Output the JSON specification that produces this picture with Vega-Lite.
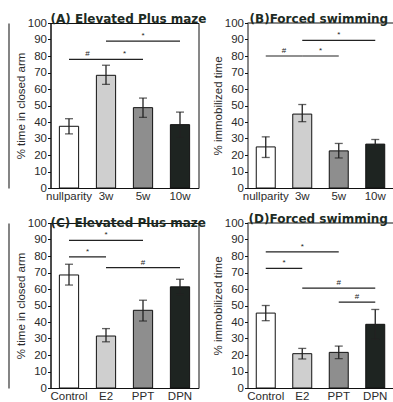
{
  "$schema": "https://vega.github.io/schema/vega-lite/v6.json",
  "background": "white",
  "padding": {"left": 7.5, "top": 12, "right": 0, "bottom": 0},
  "datasets": {
    "A": [
      {"group": "nullparity", "mean": 37.4, "lo": 32.8, "hi": 42.0},
      {"group": "3w", "mean": 68.3, "lo": 62.8, "hi": 74.4},
      {"group": "5w", "mean": 48.7, "lo": 42.8, "hi": 54.5},
      {"group": "10w", "mean": 38.4, "lo": 30.8, "hi": 46.0}
    ],
    "B": [
      {"group": "nullparity", "mean": 24.9, "lo": 18.5, "hi": 31.0},
      {"group": "3w", "mean": 44.8, "lo": 40.2, "hi": 50.6},
      {"group": "5w", "mean": 22.5, "lo": 18.2, "hi": 27.0},
      {"group": "10w", "mean": 26.6, "lo": 23.8, "hi": 29.4}
    ],
    "C": [
      {"group": "Control", "mean": 68.5, "lo": 62.4, "hi": 75.0},
      {"group": "E2", "mean": 31.5, "lo": 28.0, "hi": 36.0},
      {"group": "PPT", "mean": 47.1, "lo": 40.6, "hi": 53.2},
      {"group": "DPN", "mean": 61.3, "lo": 56.7, "hi": 65.9}
    ],
    "D": [
      {"group": "Control", "mean": 45.4, "lo": 40.8, "hi": 50.0},
      {"group": "E2", "mean": 20.8, "lo": 17.6, "hi": 24.0},
      {"group": "PPT", "mean": 21.6, "lo": 17.8, "hi": 25.4},
      {"group": "DPN", "mean": 38.6, "lo": 29.6, "hi": 47.6}
    ],
    "sigA": [
      {"from": "nullparity", "to": "3w", "y": 78, "sym": "#", "span": 1},
      {"from": "3w", "to": "5w", "y": 78, "sym": "*", "span": 1},
      {"from": "3w", "to": "10w", "y": 89, "sym": "*", "span": 2}
    ],
    "sigB": [
      {"from": "nullparity", "to": "3w", "y": 80, "sym": "#", "span": 1},
      {"from": "3w", "to": "5w", "y": 80, "sym": "*", "span": 1},
      {"from": "3w", "to": "10w", "y": 89.5, "sym": "*", "span": 2}
    ],
    "sigC": [
      {"from": "Control", "to": "PPT", "y": 89.5, "sym": "*", "span": 2},
      {"from": "Control", "to": "E2", "y": 79.5, "sym": "*", "span": 1},
      {"from": "E2", "to": "DPN", "y": 73, "sym": "#", "span": 2}
    ],
    "sigD": [
      {"from": "Control", "to": "PPT", "y": 82.5, "sym": "*", "span": 2},
      {"from": "Control", "to": "E2", "y": 72.5, "sym": "*", "span": 1},
      {"from": "E2", "to": "DPN", "y": 60.5, "sym": "#", "span": 2},
      {"from": "PPT", "to": "DPN", "y": 52, "sym": "#", "span": 1}
    ],
    "one": [{}]
  },
  "columns": 2,
  "bounds": "flush",
  "spacing": {"row": 35, "column": 49},
  "concat": [
    {
      "width": 148, "height": 165,
      "view": {"stroke": "#111"},
      "resolve": {"axis": {"y": "independent"}},
      "layer": [
        {"layer": [
        {"data": {"name": "A"}, "mark": {"type": "bar", "stroke": "#111", "strokeWidth": 1},
          "encoding": {
            "x": {"field": "group", "type": "nominal", "scale": {"domain": ["nullparity", "3w", "5w", "10w"], "paddingInner": 0.48, "paddingOuter": 0.24}, "axis": {"title": null}},
            "y": {"field": "mean", "type": "quantitative", "scale": {"domain": [0, 100]}, "axis": {"title": "% time in closed arm", "values": [0, 10, 20, 30, 40, 50, 60, 70, 80, 90, 100]}},
            "fill": {"field": "group", "type": "nominal", "scale": {"domain": ["nullparity", "3w", "5w", "10w"], "range": ["#ffffff", "#cfcfcf", "#8e8e8e", "#1e2421"]}, "legend": null}
          }},
        {"data": {"name": "A"}, "mark": {"type": "rule", "color": "#222", "strokeWidth": 1.3},
          "encoding": {
            "x": {"field": "group", "type": "nominal", "scale": {"domain": ["nullparity", "3w", "5w", "10w"]}, "axis": {"title": null}},
            "y": {"field": "lo", "type": "quantitative", "scale": {"domain": [0, 100]}, "axis": {"title": "% time in closed arm", "values": [0, 10, 20, 30, 40, 50, 60, 70, 80, 90, 100]}},
            "y2": {"field": "hi"}
          }},
        {"data": {"name": "A"}, "mark": {"type": "tick", "color": "#222", "size": 8, "thickness": 1.3},
          "encoding": {
            "x": {"field": "group", "type": "nominal", "scale": {"domain": ["nullparity", "3w", "5w", "10w"]}, "axis": {"title": null}},
            "y": {"field": "hi", "type": "quantitative", "scale": {"domain": [0, 100]}, "axis": {"title": "% time in closed arm", "values": [0, 10, 20, 30, 40, 50, 60, 70, 80, 90, 100]}}
          }},
        {"data": {"name": "A"}, "mark": {"type": "tick", "color": "#222", "size": 8, "thickness": 1.3},
          "encoding": {
            "x": {"field": "group", "type": "nominal", "scale": {"domain": ["nullparity", "3w", "5w", "10w"]}, "axis": {"title": null}},
            "y": {"field": "lo", "type": "quantitative", "scale": {"domain": [0, 100]}, "axis": {"title": "% time in closed arm", "values": [0, 10, 20, 30, 40, 50, 60, 70, 80, 90, 100]}}
          }},
        {"data": {"name": "sigA"}, "mark": {"type": "rule", "color": "#222", "strokeWidth": 1.2},
          "encoding": {
            "x": {"field": "from", "type": "nominal", "scale": {"domain": ["nullparity", "3w", "5w", "10w"]}, "axis": {"title": null}},
            "x2": {"field": "to"},
            "y": {"field": "y", "type": "quantitative", "scale": {"domain": [0, 100]}, "axis": {"title": "% time in closed arm", "values": [0, 10, 20, 30, 40, 50, 60, 70, 80, 90, 100]}}
          }},
        {"data": {"name": "sigA"}, "transform": [{"filter": "datum.span == 1"}], "mark": {"type": "text", "fontSize": 8, "dy": -3, "baseline": "alphabetic", "color": "#222"},
          "encoding": {
            "x": {"field": "from", "type": "nominal", "bandPosition": 1.46, "scale": {"domain": ["nullparity", "3w", "5w", "10w"]}, "axis": {"title": null}},
            "y": {"field": "y", "type": "quantitative", "scale": {"domain": [0, 100]}, "axis": {"title": "% time in closed arm", "values": [0, 10, 20, 30, 40, 50, 60, 70, 80, 90, 100]}},
            "text": {"field": "sym"}
          }},
        {"data": {"name": "sigA"}, "transform": [{"filter": "datum.span == 2"}], "mark": {"type": "text", "fontSize": 8, "dy": -3, "baseline": "alphabetic", "color": "#222"},
          "encoding": {
            "x": {"field": "from", "type": "nominal", "bandPosition": 2.42, "scale": {"domain": ["nullparity", "3w", "5w", "10w"]}, "axis": {"title": null}},
            "y": {"field": "y", "type": "quantitative", "scale": {"domain": [0, 100]}, "axis": {"title": "% time in closed arm", "values": [0, 10, 20, 30, 40, 50, 60, 70, 80, 90, 100]}},
            "text": {"field": "sym"}
          }},
        {"data": {"name": "one"}, "mark": {"type": "text", "font": "DejaVu Sans", "fontSize": 12, "fontWeight": "bold", "color": "#1d2b24", "align": "left", "baseline": "alphabetic", "dy": 0},
          "encoding": {
            "x": {"datum": "nullparity", "type": "nominal", "bandPosition": -0.46, "scale": {"domain": ["nullparity", "3w", "5w", "10w"]}, "axis": {"title": null}},
            "y": {"datum": 100, "type": "quantitative", "scale": {"domain": [0, 100]}, "axis": {"title": "% time in closed arm", "values": [0, 10, 20, 30, 40, 50, 60, 70, 80, 90, 100]}},
            "text": {"value": "(A) Elevated Plus maze"}
          }}
        ]},
        {"data": {"name": "one"}, "mark": {"type": "rule", "opacity": 0},
          "encoding": {
            "y": {"datum": 100, "type": "quantitative", "scale": {"domain": [0, 100]}, "axis": {"orient": "left", "offset": 42, "labels": false, "ticks": false, "title": null, "domainColor": "#333", "domainWidth": 1.2}}
          }}
      ]
    },
    {
      "width": 146, "height": 165,
      "view": {"stroke": null},
      "layer": [
        {"data": {"name": "B"}, "mark": {"type": "bar", "stroke": "#111", "strokeWidth": 1},
          "encoding": {
            "x": {"field": "group", "type": "nominal", "scale": {"domain": ["nullparity", "3w", "5w", "10w"], "paddingInner": 0.48, "paddingOuter": 0.24}, "axis": {"title": null}},
            "y": {"field": "mean", "type": "quantitative", "scale": {"domain": [0, 100]}, "axis": {"title": "% immobilized time", "values": [0, 10, 20, 30, 40, 50, 60, 70, 80, 90, 100]}},
            "fill": {"field": "group", "type": "nominal", "scale": {"domain": ["nullparity", "3w", "5w", "10w"], "range": ["#ffffff", "#cfcfcf", "#8e8e8e", "#1e2421"]}, "legend": null}
          }},
        {"data": {"name": "one"}, "mark": {"type": "rule", "color": "#111", "strokeWidth": 1},
          "encoding": {
            "y": {"datum": 100, "type": "quantitative", "scale": {"domain": [0, 100]}, "axis": {"title": "% immobilized time", "values": [0, 10, 20, 30, 40, 50, 60, 70, 80, 90, 100]}}
          }},
        {"data": {"name": "B"}, "mark": {"type": "rule", "color": "#222", "strokeWidth": 1.3},
          "encoding": {
            "x": {"field": "group", "type": "nominal", "scale": {"domain": ["nullparity", "3w", "5w", "10w"]}, "axis": {"title": null}},
            "y": {"field": "lo", "type": "quantitative", "scale": {"domain": [0, 100]}, "axis": {"title": "% immobilized time", "values": [0, 10, 20, 30, 40, 50, 60, 70, 80, 90, 100]}},
            "y2": {"field": "hi"}
          }},
        {"data": {"name": "B"}, "mark": {"type": "tick", "color": "#222", "size": 8, "thickness": 1.3},
          "encoding": {
            "x": {"field": "group", "type": "nominal", "scale": {"domain": ["nullparity", "3w", "5w", "10w"]}, "axis": {"title": null}},
            "y": {"field": "hi", "type": "quantitative", "scale": {"domain": [0, 100]}, "axis": {"title": "% immobilized time", "values": [0, 10, 20, 30, 40, 50, 60, 70, 80, 90, 100]}}
          }},
        {"data": {"name": "B"}, "mark": {"type": "tick", "color": "#222", "size": 8, "thickness": 1.3},
          "encoding": {
            "x": {"field": "group", "type": "nominal", "scale": {"domain": ["nullparity", "3w", "5w", "10w"]}, "axis": {"title": null}},
            "y": {"field": "lo", "type": "quantitative", "scale": {"domain": [0, 100]}, "axis": {"title": "% immobilized time", "values": [0, 10, 20, 30, 40, 50, 60, 70, 80, 90, 100]}}
          }},
        {"data": {"name": "sigB"}, "mark": {"type": "rule", "color": "#222", "strokeWidth": 1.2},
          "encoding": {
            "x": {"field": "from", "type": "nominal", "scale": {"domain": ["nullparity", "3w", "5w", "10w"]}, "axis": {"title": null}},
            "x2": {"field": "to"},
            "y": {"field": "y", "type": "quantitative", "scale": {"domain": [0, 100]}, "axis": {"title": "% immobilized time", "values": [0, 10, 20, 30, 40, 50, 60, 70, 80, 90, 100]}}
          }},
        {"data": {"name": "sigB"}, "transform": [{"filter": "datum.span == 1"}], "mark": {"type": "text", "fontSize": 8, "dy": -3, "baseline": "alphabetic", "color": "#222"},
          "encoding": {
            "x": {"field": "from", "type": "nominal", "bandPosition": 1.46, "scale": {"domain": ["nullparity", "3w", "5w", "10w"]}, "axis": {"title": null}},
            "y": {"field": "y", "type": "quantitative", "scale": {"domain": [0, 100]}, "axis": {"title": "% immobilized time", "values": [0, 10, 20, 30, 40, 50, 60, 70, 80, 90, 100]}},
            "text": {"field": "sym"}
          }},
        {"data": {"name": "sigB"}, "transform": [{"filter": "datum.span == 2"}], "mark": {"type": "text", "fontSize": 8, "dy": -3, "baseline": "alphabetic", "color": "#222"},
          "encoding": {
            "x": {"field": "from", "type": "nominal", "bandPosition": 2.42, "scale": {"domain": ["nullparity", "3w", "5w", "10w"]}, "axis": {"title": null}},
            "y": {"field": "y", "type": "quantitative", "scale": {"domain": [0, 100]}, "axis": {"title": "% immobilized time", "values": [0, 10, 20, 30, 40, 50, 60, 70, 80, 90, 100]}},
            "text": {"field": "sym"}
          }},
        {"data": {"name": "one"}, "mark": {"type": "text", "font": "DejaVu Sans", "fontSize": 12, "fontWeight": "bold", "color": "#1d2b24", "align": "left", "baseline": "alphabetic", "dx": 2},
          "encoding": {
            "x": {"datum": "nullparity", "type": "nominal", "bandPosition": -0.46, "scale": {"domain": ["nullparity", "3w", "5w", "10w"]}, "axis": {"title": null}},
            "y": {"datum": 100, "type": "quantitative", "scale": {"domain": [0, 100]}, "axis": {"title": "% immobilized time", "values": [0, 10, 20, 30, 40, 50, 60, 70, 80, 90, 100]}},
            "text": {"value": "(B)Forced swimming"}
          }}
      ]
    },
    {
      "width": 148, "height": 165,
      "view": {"stroke": "#111"},
      "resolve": {"axis": {"y": "independent"}},
      "layer": [
        {"layer": [
        {"data": {"name": "C"}, "mark": {"type": "bar", "stroke": "#111", "strokeWidth": 1},
          "encoding": {
            "x": {"field": "group", "type": "nominal", "scale": {"domain": ["Control", "E2", "PPT", "DPN"], "paddingInner": 0.48, "paddingOuter": 0.24}, "axis": {"title": null}},
            "y": {"field": "mean", "type": "quantitative", "scale": {"domain": [0, 100]}, "axis": {"title": "% time in closed arm", "values": [0, 10, 20, 30, 40, 50, 60, 70, 80, 90, 100]}},
            "fill": {"field": "group", "type": "nominal", "scale": {"domain": ["Control", "E2", "PPT", "DPN"], "range": ["#ffffff", "#cfcfcf", "#8e8e8e", "#1e2421"]}, "legend": null}
          }},
        {"data": {"name": "C"}, "mark": {"type": "rule", "color": "#222", "strokeWidth": 1.3},
          "encoding": {
            "x": {"field": "group", "type": "nominal", "scale": {"domain": ["Control", "E2", "PPT", "DPN"]}, "axis": {"title": null}},
            "y": {"field": "lo", "type": "quantitative", "scale": {"domain": [0, 100]}, "axis": {"title": "% time in closed arm", "values": [0, 10, 20, 30, 40, 50, 60, 70, 80, 90, 100]}},
            "y2": {"field": "hi"}
          }},
        {"data": {"name": "C"}, "mark": {"type": "tick", "color": "#222", "size": 8, "thickness": 1.3},
          "encoding": {
            "x": {"field": "group", "type": "nominal", "scale": {"domain": ["Control", "E2", "PPT", "DPN"]}, "axis": {"title": null}},
            "y": {"field": "hi", "type": "quantitative", "scale": {"domain": [0, 100]}, "axis": {"title": "% time in closed arm", "values": [0, 10, 20, 30, 40, 50, 60, 70, 80, 90, 100]}}
          }},
        {"data": {"name": "C"}, "mark": {"type": "tick", "color": "#222", "size": 8, "thickness": 1.3},
          "encoding": {
            "x": {"field": "group", "type": "nominal", "scale": {"domain": ["Control", "E2", "PPT", "DPN"]}, "axis": {"title": null}},
            "y": {"field": "lo", "type": "quantitative", "scale": {"domain": [0, 100]}, "axis": {"title": "% time in closed arm", "values": [0, 10, 20, 30, 40, 50, 60, 70, 80, 90, 100]}}
          }},
        {"data": {"name": "sigC"}, "mark": {"type": "rule", "color": "#222", "strokeWidth": 1.2},
          "encoding": {
            "x": {"field": "from", "type": "nominal", "scale": {"domain": ["Control", "E2", "PPT", "DPN"]}, "axis": {"title": null}},
            "x2": {"field": "to"},
            "y": {"field": "y", "type": "quantitative", "scale": {"domain": [0, 100]}, "axis": {"title": "% time in closed arm", "values": [0, 10, 20, 30, 40, 50, 60, 70, 80, 90, 100]}}
          }},
        {"data": {"name": "sigC"}, "transform": [{"filter": "datum.span == 1"}], "mark": {"type": "text", "fontSize": 8, "dy": -3, "baseline": "alphabetic", "color": "#222"},
          "encoding": {
            "x": {"field": "from", "type": "nominal", "bandPosition": 1.46, "scale": {"domain": ["Control", "E2", "PPT", "DPN"]}, "axis": {"title": null}},
            "y": {"field": "y", "type": "quantitative", "scale": {"domain": [0, 100]}, "axis": {"title": "% time in closed arm", "values": [0, 10, 20, 30, 40, 50, 60, 70, 80, 90, 100]}},
            "text": {"field": "sym"}
          }},
        {"data": {"name": "sigC"}, "transform": [{"filter": "datum.span == 2"}], "mark": {"type": "text", "fontSize": 8, "dy": -3, "baseline": "alphabetic", "color": "#222"},
          "encoding": {
            "x": {"field": "from", "type": "nominal", "bandPosition": 2.42, "scale": {"domain": ["Control", "E2", "PPT", "DPN"]}, "axis": {"title": null}},
            "y": {"field": "y", "type": "quantitative", "scale": {"domain": [0, 100]}, "axis": {"title": "% time in closed arm", "values": [0, 10, 20, 30, 40, 50, 60, 70, 80, 90, 100]}},
            "text": {"field": "sym"}
          }},
        {"data": {"name": "one"}, "mark": {"type": "text", "font": "DejaVu Sans", "fontSize": 12, "fontWeight": "bold", "color": "#1d2b24", "align": "left", "baseline": "alphabetic", "dy": 4},
          "encoding": {
            "x": {"datum": "Control", "type": "nominal", "bandPosition": -0.46, "scale": {"domain": ["Control", "E2", "PPT", "DPN"]}, "axis": {"title": null}},
            "y": {"datum": 100, "type": "quantitative", "scale": {"domain": [0, 100]}, "axis": {"title": "% time in closed arm", "values": [0, 10, 20, 30, 40, 50, 60, 70, 80, 90, 100]}},
            "text": {"value": "(C) Elevated Plus maze"}
          }}
        ]},
        {"data": {"name": "one"}, "mark": {"type": "rule", "opacity": 0},
          "encoding": {
            "y": {"datum": 100, "type": "quantitative", "scale": {"domain": [0, 100]}, "axis": {"orient": "left", "offset": 42, "labels": false, "ticks": false, "title": null, "domainColor": "#333", "domainWidth": 1.2}}
          }}
      ]
    },
    {
      "width": 146, "height": 165,
      "view": {"stroke": null},
      "layer": [
        {"data": {"name": "D"}, "mark": {"type": "bar", "stroke": "#111", "strokeWidth": 1},
          "encoding": {
            "x": {"field": "group", "type": "nominal", "scale": {"domain": ["Control", "E2", "PPT", "DPN"], "paddingInner": 0.48, "paddingOuter": 0.24}, "axis": {"title": null}},
            "y": {"field": "mean", "type": "quantitative", "scale": {"domain": [0, 100]}, "axis": {"title": "% immobilized time", "values": [0, 10, 20, 30, 40, 50, 60, 70, 80, 90, 100]}},
            "fill": {"field": "group", "type": "nominal", "scale": {"domain": ["Control", "E2", "PPT", "DPN"], "range": ["#ffffff", "#cfcfcf", "#8e8e8e", "#1e2421"]}, "legend": null}
          }},
        {"data": {"name": "one"}, "mark": {"type": "rule", "color": "#111", "strokeWidth": 1},
          "encoding": {
            "y": {"datum": 100, "type": "quantitative", "scale": {"domain": [0, 100]}, "axis": {"title": "% immobilized time", "values": [0, 10, 20, 30, 40, 50, 60, 70, 80, 90, 100]}}
          }},
        {"data": {"name": "D"}, "mark": {"type": "rule", "color": "#222", "strokeWidth": 1.3},
          "encoding": {
            "x": {"field": "group", "type": "nominal", "scale": {"domain": ["Control", "E2", "PPT", "DPN"]}, "axis": {"title": null}},
            "y": {"field": "lo", "type": "quantitative", "scale": {"domain": [0, 100]}, "axis": {"title": "% immobilized time", "values": [0, 10, 20, 30, 40, 50, 60, 70, 80, 90, 100]}},
            "y2": {"field": "hi"}
          }},
        {"data": {"name": "D"}, "mark": {"type": "tick", "color": "#222", "size": 8, "thickness": 1.3},
          "encoding": {
            "x": {"field": "group", "type": "nominal", "scale": {"domain": ["Control", "E2", "PPT", "DPN"]}, "axis": {"title": null}},
            "y": {"field": "hi", "type": "quantitative", "scale": {"domain": [0, 100]}, "axis": {"title": "% immobilized time", "values": [0, 10, 20, 30, 40, 50, 60, 70, 80, 90, 100]}}
          }},
        {"data": {"name": "D"}, "mark": {"type": "tick", "color": "#222", "size": 8, "thickness": 1.3},
          "encoding": {
            "x": {"field": "group", "type": "nominal", "scale": {"domain": ["Control", "E2", "PPT", "DPN"]}, "axis": {"title": null}},
            "y": {"field": "lo", "type": "quantitative", "scale": {"domain": [0, 100]}, "axis": {"title": "% immobilized time", "values": [0, 10, 20, 30, 40, 50, 60, 70, 80, 90, 100]}}
          }},
        {"data": {"name": "sigD"}, "mark": {"type": "rule", "color": "#222", "strokeWidth": 1.2},
          "encoding": {
            "x": {"field": "from", "type": "nominal", "scale": {"domain": ["Control", "E2", "PPT", "DPN"]}, "axis": {"title": null}},
            "x2": {"field": "to"},
            "y": {"field": "y", "type": "quantitative", "scale": {"domain": [0, 100]}, "axis": {"title": "% immobilized time", "values": [0, 10, 20, 30, 40, 50, 60, 70, 80, 90, 100]}}
          }},
        {"data": {"name": "sigD"}, "transform": [{"filter": "datum.span == 1"}], "mark": {"type": "text", "fontSize": 8, "dy": -3, "baseline": "alphabetic", "color": "#222"},
          "encoding": {
            "x": {"field": "from", "type": "nominal", "bandPosition": 1.46, "scale": {"domain": ["Control", "E2", "PPT", "DPN"]}, "axis": {"title": null}},
            "y": {"field": "y", "type": "quantitative", "scale": {"domain": [0, 100]}, "axis": {"title": "% immobilized time", "values": [0, 10, 20, 30, 40, 50, 60, 70, 80, 90, 100]}},
            "text": {"field": "sym"}
          }},
        {"data": {"name": "sigD"}, "transform": [{"filter": "datum.span == 2"}], "mark": {"type": "text", "fontSize": 8, "dy": -3, "baseline": "alphabetic", "color": "#222"},
          "encoding": {
            "x": {"field": "from", "type": "nominal", "bandPosition": 2.42, "scale": {"domain": ["Control", "E2", "PPT", "DPN"]}, "axis": {"title": null}},
            "y": {"field": "y", "type": "quantitative", "scale": {"domain": [0, 100]}, "axis": {"title": "% immobilized time", "values": [0, 10, 20, 30, 40, 50, 60, 70, 80, 90, 100]}},
            "text": {"field": "sym"}
          }},
        {"data": {"name": "one"}, "mark": {"type": "text", "font": "DejaVu Sans", "fontSize": 12, "fontWeight": "bold", "color": "#1d2b24", "align": "left", "baseline": "alphabetic", "dx": 1},
          "encoding": {
            "x": {"datum": "Control", "type": "nominal", "bandPosition": -0.46, "scale": {"domain": ["Control", "E2", "PPT", "DPN"]}, "axis": {"title": null}},
            "y": {"datum": 100, "type": "quantitative", "scale": {"domain": [0, 100]}, "axis": {"title": "% immobilized time", "values": [0, 10, 20, 30, 40, 50, 60, 70, 80, 90, 100]}},
            "text": {"value": "(D)Forced swimming"}
          }}
      ]
    }
  ],
  "config": {
    "font": "Liberation Sans",
    "axis": {"labelFont": "Liberation Sans", "labelFontSize": 11.5, "labelColor": "#2b2b2b", "titleFont": "Liberation Sans", "titleFontSize": 11.5, "titleFontWeight": "normal", "titleColor": "#2b2b2b", "domainColor": "#111", "tickColor": "#111", "grid": false},
    "axisX": {"ticks": false, "labelAngle": 0, "labelPadding": 2},
    "axisY": {"tickSize": 3, "labelPadding": 1, "titlePadding": 1}
  }
}
